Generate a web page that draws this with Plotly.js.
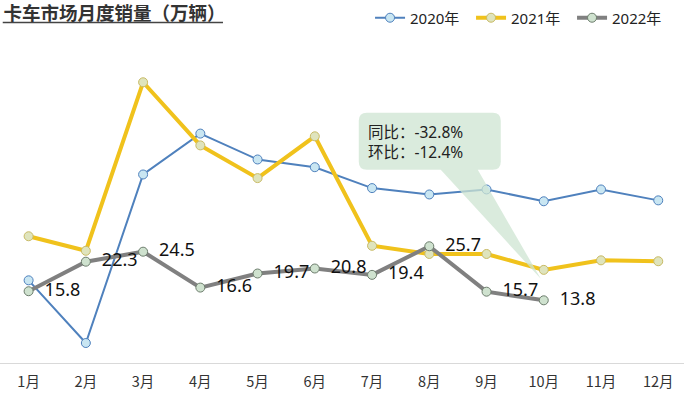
<!DOCTYPE html>
<html>
<head>
<meta charset="utf-8">
<script src="https://cdn.plot.ly/plotly-3.0.1.min.js"></script>
<style>html,body{margin:0;padding:0;background:#fff;}#chart{width:684px;height:405px;}</style>
</head>
<body>
<div id="chart"></div>
<script>
const months = ['1月','2月','3月','4月','5月','6月','7月','8月','9月','10月','11月','12月'];
const sales2020 = [18.2, 4.4, 41.5, 50.5, 44.8, 43.1, 38.5, 37.1, 38.2, 35.6, 38.2, 35.8];
const sales2021 = [27.9, 24.7, 61.8, 47.9, 40.7, 49.9, 25.8, 24.0, 24.0, 20.5, 22.6, 22.4];
const sales2022 = [15.8, 22.3, 24.5, 16.6, 19.7, 20.8, 19.4, 25.7, 15.7, 13.8];
const seriesNames = ['2020年', '2021年', '2022年'];
const calloutLines = ['同比：-32.8%', '环比：-12.4%'];
const titleText = '卡车市场月度销量（万辆）';

const FONT = 'Noto Sans, "Noto Sans CJK SC", sans-serif';
const CJK = '"Noto Sans CJK SC", "Noto Sans", sans-serif';

const traces = [
  {
    x: months, y: sales2020, name: seriesNames[0], type: 'scatter', mode: 'lines+markers',
    line: {color: '#4f81bd', width: 2},
    marker: {size: 9, color: '#c9e6f2', line: {color: '#4f81bd', width: 1}}
  },
  {
    x: months, y: sales2021, name: seriesNames[1], type: 'scatter', mode: 'lines+markers',
    line: {color: '#f0c21c', width: 4},
    marker: {size: 9, color: '#dfe4bd', line: {color: '#c9bb66', width: 1}}
  },
  {
    x: months.slice(0, sales2022.length), y: sales2022, name: seriesNames[2], type: 'scatter',
    mode: 'lines+markers+text',
    text: sales2022.map(v => '  ' + v.toFixed(1)),
    textposition: 'middle right',
    textfont: {family: FONT, size: 18, color: '#111'},
    line: {color: '#808080', width: 4},
    marker: {size: 9, color: '#cfe2cf', line: {color: '#6d7d6d', width: 1}}
  }
];

const ai = 9; // October anchor
const calloutPath = 'M -177,157 L -51,157 Q -43,157 -43,149 L -43,108 Q -43,100 -51,100 ' +
  'L -66,100 L -3,-9 L -103,100 L -177,100 Q -185,100 -185,108 L -185,149 Q -185,157 -177,157 Z';

const layout = {
  width: 684, height: 405,
  margin: {l: 0, r: 0, t: 45, b: 42, pad: 0, autoexpand: false},
  paper_bgcolor: '#ffffff', plot_bgcolor: '#ffffff',
  font: {family: FONT, color: '#333'},
  showlegend: true,
  title: {
    text: '<b>' + titleText + '</b>',
    font: {family: CJK, size: 18.5, color: '#333'},
    x: 0.005, xanchor: 'left', xref: 'container',
    y: 0.966, yanchor: 'middle', yref: 'container'
  },
  legend: {
    orientation: 'h', x: 0.541, xanchor: 'left', y: 1.085, yanchor: 'middle',
    font: {family: FONT, size: 15, color: '#222'},
    bgcolor: 'rgba(0,0,0,0)', itemwidth: 30, tracegroupgap: 0,
    entrywidth: 56, entrywidthmode: 'pixels'
  },
  xaxis: {
    type: 'category', range: [-0.5, 11.45], fixedrange: true,
    showgrid: false, zeroline: false, showline: true, linecolor: '#d9d9d9', linewidth: 1,
    ticks: '', tickfont: {family: CJK, size: 14.5, color: '#333'}, ticklabelstandoff: 6
  },
  yaxis: {
    range: [0, 70], fixedrange: true, visible: false, showgrid: false, zeroline: false
  },
  shapes: [
    {
      type: 'line', xref: 'paper', yref: 'paper', x0: 0.004, x1: 0.326, y0: 1.071, y1: 1.071,
      line: {color: '#444', width: 1.5}
    },
    {
      type: 'path', xref: 'x', yref: 'y', xsizemode: 'pixel', ysizemode: 'pixel',
      xanchor: ai, yanchor: sales2021[ai], path: calloutPath,
      fillcolor: 'rgba(205,228,210,0.75)', line: {width: 0}, layer: 'above'
    }
  ],
  annotations: [
    {
      x: ai, y: sales2021[ai], xref: 'x', yref: 'y', xanchor: 'left', yanchor: 'top',
      xshift: -178, yshift: 151, showarrow: false, align: 'left',
      text: calloutLines.join('<br>'),
      font: {family: FONT, size: 15.5, color: '#222'}
    }
  ]
};

Plotly.newPlot('chart', traces, layout, {displayModeBar: false, staticPlot: true});
</script>
</body>
</html>
